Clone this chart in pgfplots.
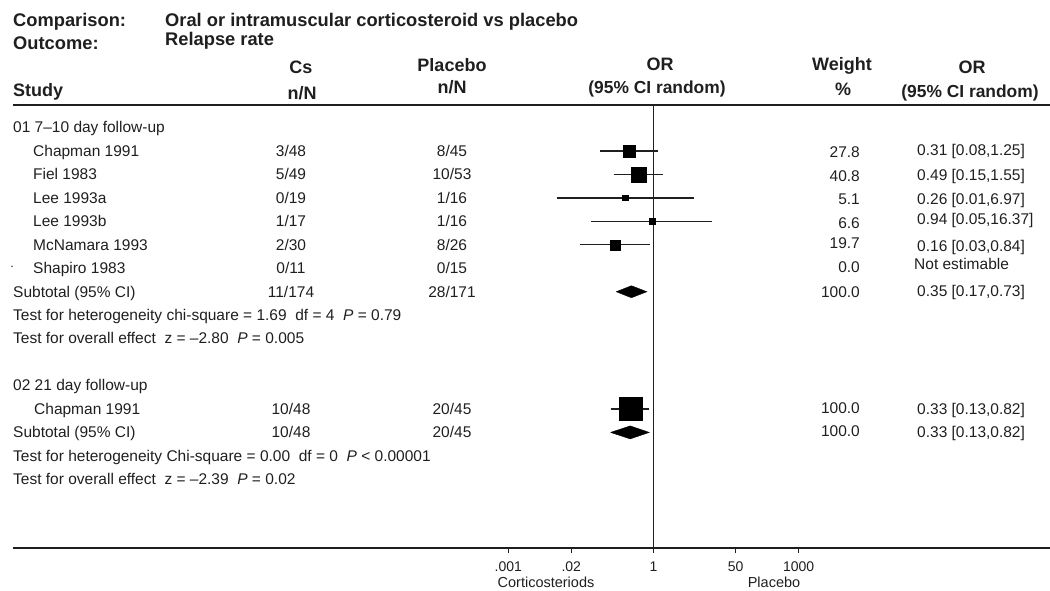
\documentclass[border=0pt]{standalone}
\usepackage{fontspec}
\setmainfont{Liberation Sans}
\usepackage{pgfplots}
\pgfplotsset{compat=1.18}
\usepackage{pgfplotstable}

% row = line index of the forest plot (0 = first group heading)
\pgfplotstableread{
row or lo hi w
1 0.31 0.08 1.25 27.8
2 0.49 0.15 1.55 40.8
3 0.26 0.01 6.97 5.1
4 0.94 0.05 16.37 6.6
5 0.16 0.03 0.84 19.7
12 0.33 0.13 0.82 100.0
}\studies

\newcommand\body{\fontsize{15.5}{18}\selectfont}
\newcommand\head{\fontsize{18}{20}\selectfont\bfseries}
\newcommand\headci{\fontsize{17.4}{20}\selectfont\bfseries}
\newcommand\toptitle{\fontsize{18.3}{20}\selectfont\bfseries}
\definecolor{ink}{gray}{0.12}

\begin{document}
\begin{tikzpicture}
\useasboundingbox (0pt,0pt) rectangle (1050pt,-590pt);
\begin{axis}[
  at={(13pt,-548pt)}, anchor=south west,
  scale only axis, width=1037pt, height=443pt,
  xmode=log, log basis x=10,
  xmin=5.85e-14, xmax=1.556e8,
  ymin=-17.93, ymax=0.964,
  axis x line*=bottom, axis y line=none,
  xtick={0.001,0.02,1,50,1000},
  xticklabels={.001,.02,1,50,1000},
  minor xtick={},
  tick align=outside, major tick length=5pt,
  every tick/.style={ink, line width=1.3pt},
  x axis line style={line width=1.6pt, ink, -},
  xticklabel style={font=\fontsize{14}{16}\selectfont, text=ink, anchor=north, inner sep=0pt, yshift=-9pt},
  clip=false,
]
% line of no effect
\addplot[ink, line width=1.2pt] coordinates {(1,-17.93) (1,0.964)};
% confidence intervals
\addplot[ink, line width=1.2pt] coordinates {(0.08,-1) (1.25,-1)};
\addplot[ink, line width=1.2pt] coordinates {(0.15,-2) (1.55,-2)};
\addplot[ink, line width=1.2pt] coordinates {(0.01,-3) (6.97,-3)};
\addplot[ink, line width=1.2pt] coordinates {(0.05,-4) (16.37,-4)};
\addplot[ink, line width=1.2pt] coordinates {(0.03,-5) (0.84,-5)};
\addplot[ink, line width=1.2pt] coordinates {(0.13,-12) (0.82,-12)};
% study boxes, area proportional to weight
\addplot[scatter, only marks, mark=square*,
  scatter/use mapped color={draw=black, fill=black},
  mark options={line width=0.3pt},
  visualization depends on={\thisrow{w} \as \wt},
  scatter/@pre marker code/.append style={/tikz/mark size={1.15*sqrt(\wt)}}]
  table[x=or, y expr=-\thisrow{row}] {\studies};
% pooled diamonds
\addplot[draw=black, fill=black, line width=0.4pt] coordinates {(0.17,-7) (0.35,-6.744) (0.73,-7) (0.35,-7.256) (0.17,-7)};
\addplot[draw=black, fill=black, line width=0.4pt] coordinates {(0.13,-13) (0.33,-12.723) (0.82,-13) (0.33,-13.277) (0.13,-13)};
\end{axis}

\begin{scope}[x=1pt, y=-1pt, every node/.style={inner sep=0pt, text=ink}]
\draw[line width=1.6pt, ink] (13,105) -- (1050,105);
% header
\node[anchor=base west, font=\toptitle] at (13,26) {Comparison:};
\node[anchor=base west, font=\toptitle] at (165,26) {Oral or intramuscular corticosteroid vs placebo};
\node[anchor=base west, font=\toptitle] at (13,49) {Outcome:};
\node[anchor=base west, font=\toptitle] at (165,45) {Relapse rate};
\node[anchor=base west, font=\head] at (13,96) {Study};
\node[anchor=base, font=\head] at (301,73) {Cs};
\node[anchor=base, font=\head] at (302,99) {n/N};
\node[anchor=base, font=\head] at (452,71) {Placebo};
\node[anchor=base, font=\head] at (452,93) {n/N};
\node[anchor=base, font=\head] at (660,70) {OR};
\node[anchor=base, font=\headci] at (657,93) {(95\% CI random)};
\node[anchor=base, font=\head] at (842,70) {Weight};
\node[anchor=base, font=\head] at (843,95) {\%};
\node[anchor=base, font=\head] at (972,73) {OR};
\node[anchor=base, font=\headci] at (970,97) {(95\% CI random)};
% group 1
\node[anchor=base west, font=\body] at (13,132.8) {01 7\textendash10 day follow-up};
\node[anchor=base west, font=\body] at (33,156.3) {Chapman 1991};
\node[anchor=base west, font=\body] at (33,179.7) {Fiel 1983};
\node[anchor=base west, font=\body] at (33,203.2) {Lee 1993a};
\node[anchor=base west, font=\body] at (33,226.6) {Lee 1993b};
\node[anchor=base west, font=\body] at (33,250.1) {McNamara 1993};
\node[anchor=base west, font=\body] at (33,273.5) {Shapiro 1983};
\node[anchor=base, font=\body] at (12,270) {$\cdot$};
\node[anchor=base west, font=\body] at (13,297) {Subtotal (95\% CI)};
\node[anchor=base west, font=\body] at (13,320.4) {Test for heterogeneity chi-square = 1.69\ \ df = 4\ \ \textit{P} = 0.79};
\node[anchor=base west, font=\body] at (13,343.9) {Test for overall effect\ \ z = \textendash2.80\ \ \textit{P} = 0.005};
% Cs column
\node[anchor=base, font=\body] at (291,156.3) {3/48};
\node[anchor=base, font=\body] at (291,179.7) {5/49};
\node[anchor=base, font=\body] at (291,203.2) {0/19};
\node[anchor=base, font=\body] at (291,226.6) {1/17};
\node[anchor=base, font=\body] at (291,250.1) {2/30};
\node[anchor=base, font=\body] at (291,273.5) {0/11};
\node[anchor=base, font=\body] at (291,297) {11/174};
% Placebo column
\node[anchor=base, font=\body] at (452,156.3) {8/45};
\node[anchor=base, font=\body] at (452,179.7) {10/53};
\node[anchor=base, font=\body] at (452,203.2) {1/16};
\node[anchor=base, font=\body] at (452,226.6) {1/16};
\node[anchor=base, font=\body] at (452,250.1) {8/26};
\node[anchor=base, font=\body] at (452,273.5) {0/15};
\node[anchor=base, font=\body] at (452,297) {28/171};
% weights
\node[anchor=base east, font=\body] at (860,157) {27.8};
\node[anchor=base east, font=\body] at (860,181.5) {40.8};
\node[anchor=base east, font=\body] at (860,204.5) {5.1};
\node[anchor=base east, font=\body] at (860,228) {6.6};
\node[anchor=base east, font=\body] at (860,248) {19.7};
\node[anchor=base east, font=\body] at (860,272) {0.0};
\node[anchor=base east, font=\body] at (860,297) {100.0};
% OR text
\node[anchor=base west, font=\body] at (917,155) {0.31 [0.08,1.25]};
\node[anchor=base west, font=\body] at (917,180) {0.49 [0.15,1.55]};
\node[anchor=base west, font=\body] at (917,204) {0.26 [0.01,6.97]};
\node[anchor=base west, font=\body] at (917,224) {0.94 [0.05,16.37]};
\node[anchor=base west, font=\body] at (917,251.5) {0.16 [0.03,0.84]};
\node[anchor=base west, font=\body] at (914,269) {Not estimable};
\node[anchor=base west, font=\body] at (917,296) {0.35 [0.17,0.73]};
% group 2
\node[anchor=base west, font=\body] at (13,390.8) {02 21 day follow-up};
\node[anchor=base west, font=\body] at (34,414.2) {Chapman 1991};
\node[anchor=base west, font=\body] at (13,437.7) {Subtotal (95\% CI)};
\node[anchor=base west, font=\body] at (13,461.1) {Test for heterogeneity Chi-square = 0.00\ \ df = 0\ \ \textit{P} < 0.00001};
\node[anchor=base west, font=\body] at (13,484.6) {Test for overall effect\ \ z = \textendash2.39\ \ \textit{P} = 0.02};
\node[anchor=base, font=\body] at (291,414.2) {10/48};
\node[anchor=base, font=\body] at (291,437.7) {10/48};
\node[anchor=base, font=\body] at (452,414.2) {20/45};
\node[anchor=base, font=\body] at (452,437.7) {20/45};
\node[anchor=base east, font=\body] at (860,413.5) {100.0};
\node[anchor=base east, font=\body] at (860,436.5) {100.0};
\node[anchor=base west, font=\body] at (917,414.5) {0.33 [0.13,0.82]};
\node[anchor=base west, font=\body] at (917,437.5) {0.33 [0.13,0.82]};
% axis side labels
\node[anchor=base, font=\fontsize{14.5}{16}\selectfont] at (546,587) {Corticosteriods};
\node[anchor=base, font=\fontsize{14.5}{16}\selectfont] at (774,587) {Placebo};
\end{scope}
\end{tikzpicture}
\end{document}
